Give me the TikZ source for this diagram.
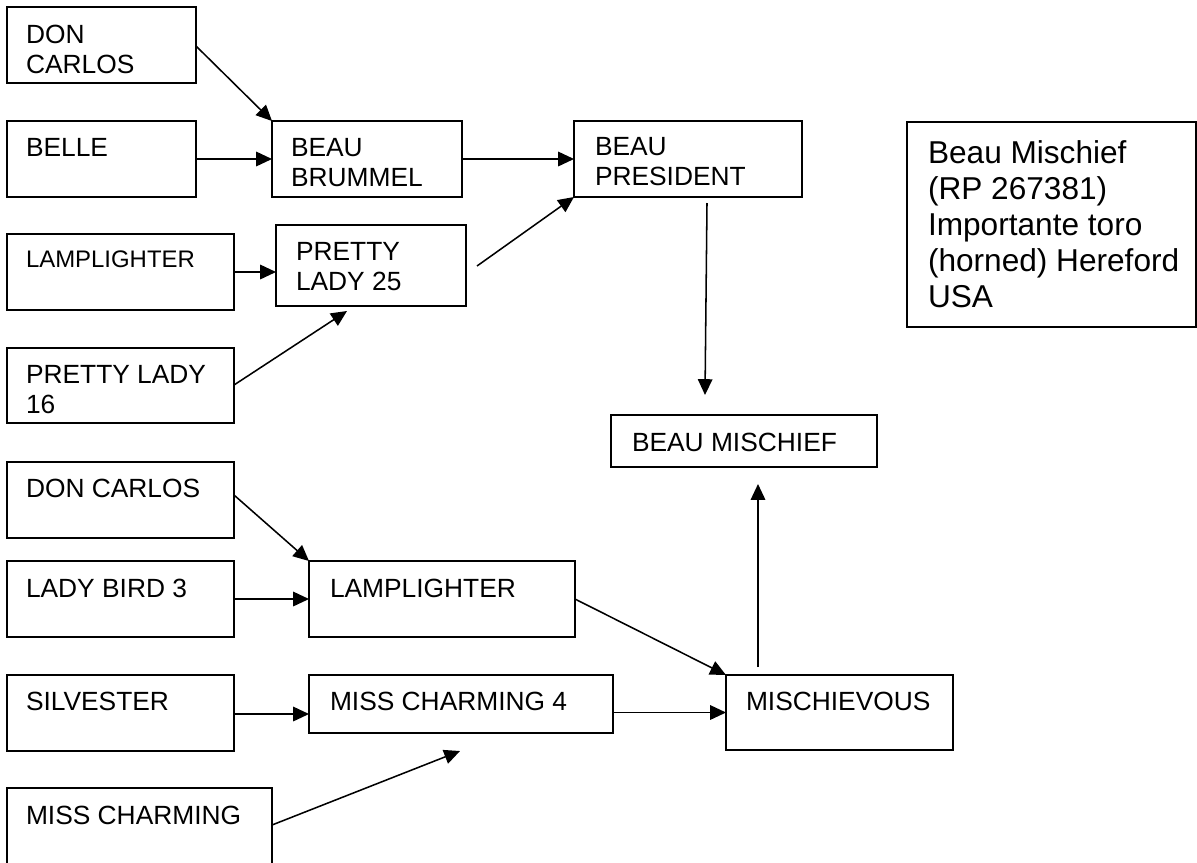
\documentclass[tikz,border=0pt]{standalone}
\usepackage{fontspec}
\setmainfont{Liberation Sans}
\usetikzlibrary{arrows.meta,calc,fit}
\newcommand{\lines}[1]{\begin{tabular}[t]{@{}l@{}}#1\end{tabular}}
\begin{document}
\begin{tikzpicture}[x=0.4555pt,y=-0.4555pt,
  box/.style={draw, line width=0.8pt, inner sep=0pt, outer sep=0pt},
  lbl/.style={anchor=base west, inner sep=0pt, outer sep=0pt, font=\fontsize{12}{13.67}\selectfont},
  arr/.style={line width=0.7pt, -{Triangle[length=7.2pt,width=6.6pt]}}]
\useasboundingbox (0,0) rectangle (1197,862);
\clip (0,0) rectangle (1197,862);

% boxes
\node[box, fit={(7,7)(196,83)}] (dcA) {};
\node[box, fit={(7,121)(196,197)}] (belle) {};
\node[box, fit={(7,234)(234,310)}] (lampA) {};
\node[box, fit={(7,348)(234,423)}] (pl16) {};
\node[box, fit={(272,121)(462,197)}] (bb) {};
\node[box, fit={(276,225)(466,306)}] (pl25) {};
\node[box, fit={(574,121)(802,197)}] (bp) {};
\node[box, fit={(907,122)(1196,327)}] (info) {};
\node[box, fit={(611,415)(877,467)}] (bm) {};
\node[box, fit={(7,462)(234,538)}] (dcB) {};
\node[box, fit={(7,561)(234,637)}] (lb3) {};
\node[box, fit={(309,561)(575,637)}] (lampB) {};
\node[box, fit={(7,675)(234,751)}] (silv) {};
\node[box, fit={(309,675)(613,733)}] (mc4) {};
\node[box, fit={(726,675)(953,750)}] (misc) {};
\node[box, fit={(7,788)(272,880)}] (mc) {};

% texts
\node[lbl] (dcAt) at ($(dcA.north west)+(19,36)$) {\lines{DON\\CARLOS}};
\node[lbl] (bellet) at ($(belle.north west)+(19,35)$) {BELLE};
\node[lbl, font=\fontsize{10.9}{12.5}\selectfont] (lampAt) at ($(lampA.north west)+(19,33)$) {LAMPLIGHTER};
\node[lbl] (pl16t) at ($(pl16.north west)+(19,35)$) {\lines{PRETTY LADY\\16}};
\node[lbl] (bbt) at ($(bb.north west)+(19,35)$) {\lines{BEAU\\BRUMMEL}};
\node[lbl] (pl25t) at ($(pl25.north west)+(20,35)$) {\lines{PRETTY\\LADY 25}};
\node[lbl] (bpt) at ($(bp.north west)+(21,34)$) {\lines{BEAU\\PRESIDENT}};
\node[lbl, font=\fontsize{14.4}{16.5}\selectfont] (infot) at ($(info.north west)+(21,41)$)
  {\lines{Beau Mischief\\(RP 267381)\\Importante toro\\(horned) Hereford\\USA}};
\node[lbl] (bmt) at ($(bm.north west)+(21,36)$) {BEAU MISCHIEF};
\node[lbl] (dcBt) at ($(dcB.north west)+(19,35)$) {DON CARLOS};
\node[lbl] (lb3t) at ($(lb3.north west)+(19,36)$) {LADY BIRD 3};
\node[lbl] (lampBt) at ($(lampB.north west)+(21,36)$) {LAMPLIGHTER};
\node[lbl] (silvt) at ($(silv.north west)+(19,35)$) {SILVESTER};
\node[lbl] (mc4t) at ($(mc4.north west)+(21,35)$) {MISS CHARMING 4};
\node[lbl] (misct) at ($(misc.north west)+(20,35)$) {MISCHIEVOUS};
\node[lbl] (mct) at ($(mc.north west)+(19,36)$) {MISS CHARMING};

% free ends
\coordinate (pl25in) at ($(pl25.south west)+(71,5)$);
\coordinate (pl25out) at ($(pl25.south east)+(11,-40)$);
\coordinate (bpout) at ($(bp.south west)+(133,6)$);
\coordinate (bmin) at ($(bm.north west)+(94,-20)$);
\coordinate (mc4in) at ($(mc4.south west)+(151,18)$);
\coordinate (miscout) at ($(misc.north west)+(32,-8)$);
\coordinate (bmin2) at ($(bm.south west)+(147,17)$);

% connectors
\draw[arr] ($(dcA.north east)+(0,39)$) -- (bb.north west);
\draw[arr] (belle.east) -- (bb.west);
\draw[arr] (lampA.east) -- (lampA.east -| pl25.west);
\draw[arr] ($(pl16.north east)+(0,37)$) -- (pl25in);
\draw[arr] (bb.east) -- (bp.west);
\draw[arr] (pl25out) -- (bp.south west);
\draw[arr] (bpout) -- (bmin);
\draw[arr] ($(dcB.north east)+(0,33)$) -- (lampB.north west);
\draw[arr] (lb3.east) -- (lampB.west);
\draw[arr] ($(silv.east)+(0,1)$) -- ($(silv.east -| mc4.west)+(0,1)$);
\draw[arr] ($(mc.north east)+(0,37)$) -- (mc4in);
\draw[arr] (lampB.east) -- (misc.north west);
\draw[arr] (mc4.east |- misc.west) -- (misc.west);
\draw[arr] (miscout) -- (bmin2);
\end{tikzpicture}
\end{document}
